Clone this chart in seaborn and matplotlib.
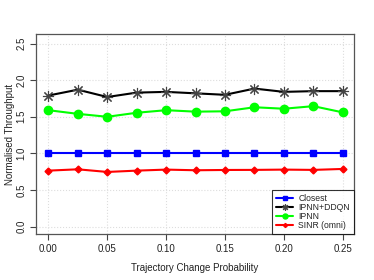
import numpy as np
import pandas as pd
import matplotlib
matplotlib.use("Agg")
import matplotlib.pyplot as plt
import seaborn as sns

# trajectory change probability
prob = [0.0, 0.025, 0.05, 0.075, 0.1, 0.125, 0.15, 0.175, 0.2, 0.225, 0.25]

closest = [1.0] * 11
ipnn_ddqn = [1.79, 1.87, 1.77, 1.83, 1.84, 1.82, 1.80, 1.885, 1.84, 1.85, 1.85]
ipnn = [1.59, 1.54, 1.50, 1.555, 1.59, 1.57, 1.575, 1.63, 1.61, 1.645, 1.56]
sinr = [0.765, 0.783, 0.747, 0.765, 0.779, 0.77, 0.774, 0.775, 0.779, 0.775, 0.788]

series = ['Closest', 'IPNN+DDQN', 'IPNN', 'SINR (omni)']
values = [closest, ipnn_ddqn, ipnn, sinr]

df = pd.DataFrame({
    'prob': prob * 4,
    'thr': sum(values, []),
    'method': sum([[s] * len(prob) for s in series], []),
})

sns.set_style("white")
plt.rcParams['font.family'] = ['Liberation Sans', 'DejaVu Sans']

styles = {
    'Closest': dict(color='#0000FF', marker='s', ms=5, mec='#0000FF'),
    'IPNN+DDQN': dict(color='#000000', marker=(8, 2, 0), ms=8, mec='#444444', mew=0.8),
    'IPNN': dict(color='#00FF00', marker='o', ms=6, mec='#00FF00'),
    'SINR (omni)': dict(color='#FF0000', marker='D', ms=3.5, mec='#FF0000'),
}

fig = plt.figure(figsize=(3.74, 2.8), dpi=100)
ax = fig.add_axes([36/374, 1-234/280, (354-36)/374, (234-34)/280])

for s in series:
    st = styles[s]
    sns.lineplot(data=df[df.method == s], x='prob', y='thr', ax=ax,
                 color=st['color'], lw=1.5, marker=st['marker'],
                 markersize=st['ms'], markeredgecolor=st['mec'],
                 markeredgewidth=st.get('mew', 1), label=s)

ax.set_xlim(-0.0105, 0.2595)
ax.set_ylim(-0.1, 2.63)
ax.set_xticks([0.0, 0.05, 0.10, 0.15, 0.20, 0.25])
ax.set_xticklabels(['0.00', '0.05', '0.10', '0.15', '0.20', '0.25'])
ax.set_yticks([0.0, 0.5, 1.0, 1.5, 2.0, 2.5])
ax.set_yticklabels(['0.0', '0.5', '1.0', '1.5', '2.0', '2.5'], rotation=90, va='center')

ax.grid(True, color='#dddddd', linestyle=':', lw=0.8)
ax.tick_params(axis='both', direction='out', length=4, width=0.8, colors='#444444',
               labelsize=7, labelcolor='#222222', bottom=True, left=True, pad=3)
for sp in ax.spines.values():
    sp.set_color('#555555')
    sp.set_linewidth(0.9)

ax.set_xlabel('Trajectory Change Probability', fontsize=7, color='#222222', labelpad=7)
ax.set_ylabel('Normalised Throughput', fontsize=7, color='#222222', labelpad=1)

leg = ax.legend(loc='lower right', borderaxespad=0, fontsize=6.2, frameon=True,
                fancybox=False, handlelength=2.0, handletextpad=0.6,
                labelspacing=0.0, borderpad=0.45, markerscale=0.6)
leg.get_frame().set_edgecolor('#000000')
leg.get_frame().set_linewidth(0.8)

fig.savefig('out.png', dpi=100)
